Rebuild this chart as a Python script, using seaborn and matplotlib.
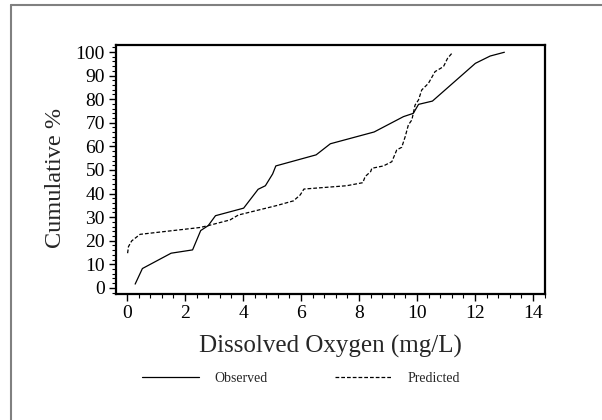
import pandas as pd
import numpy as np
import seaborn as sns
import matplotlib.pyplot as plt
from matplotlib.lines import Line2D
from matplotlib.ticker import MultipleLocator

# observed and predicted cumulative curves
obs_x = [0.28, 0.53, 1.52, 2.26, 2.54, 2.80, 3.05, 4.02, 4.52, 4.77, 5.02, 5.13,
         6.52, 7.01, 8.52, 9.53, 9.87, 10.05, 10.53, 12.01, 12.52, 13.01]
obs_y = [1.6, 8.2, 14.7, 16.1, 24.3, 26.4, 30.6, 33.8, 41.8, 43.3, 48.3, 51.7,
         56.4, 61.1, 66.1, 72.6, 74.0, 77.8, 79.2, 95.2, 98.3, 99.9]

pred_x = [0.02, 0.05, 0.16, 0.45, 2.52, 2.80, 3.55, 3.84, 5.16, 5.74, 5.97, 6.10,
          7.57, 8.13, 8.21, 8.40, 8.44, 8.84, 9.13, 9.30, 9.47, 9.59, 9.70, 9.82,
          9.93, 10.05, 10.16, 10.39, 10.62, 10.91, 11.05, 11.23]
pred_y = [14.7, 17.5, 19.9, 22.7, 25.6, 26.4, 28.8, 30.9, 34.9, 36.9, 39.4, 41.9,
          43.3, 44.6, 47.2, 49.3, 50.7, 51.7, 53.5, 58.5, 59.6, 64.1, 69.1, 71.2,
          77.5, 79.7, 83.9, 86.7, 91.7, 93.8, 97.3, 99.9]

x_ticks = [0, 2, 4, 6, 8, 10, 12, 14]
y_ticks = [0, 10, 20, 30, 40, 50, 60, 70, 80, 90, 100]

df = pd.concat([
    pd.DataFrame({'DO': obs_x, 'cum': obs_y, 'series': 'Observed'}),
    pd.DataFrame({'DO': pred_x, 'cum': pred_y, 'series': 'Predicted'}),
], ignore_index=True)

sns.set_style('ticks')
plt.rcParams['font.family'] = ['Liberation Serif', 'DejaVu Serif']
plt.rcParams['xtick.major.width'] = 1.0
plt.rcParams['ytick.major.width'] = 1.0

fig = plt.figure(figsize=(6.02, 4.2), dpi=100)
ax = fig.add_axes([0.1927, 0.3, 0.7126, 0.593])

sns.lineplot(data=df, x='DO', y='cum', hue='series', style='series',
             palette={'Observed': 'black', 'Predicted': 'black'},
             dashes={'Observed': '', 'Predicted': (3, 1.6)},
             estimator=None, sort=False, linewidth=0.9, ax=ax, legend=False)

ax.set_xlim(-0.38, 14.41)
ax.set_ylim(-2.6, 103)
ax.set_xticks(x_ticks)
ax.set_yticks(y_ticks)
ax.xaxis.set_minor_locator(MultipleLocator(0.4))
ax.yaxis.set_minor_locator(MultipleLocator(2))
ax.tick_params(which='major', length=5, labelsize=14, color='black', labelcolor='black', pad=3)
ax.tick_params(which='minor', length=3, width=0.8, color='black')
for s in ax.spines.values():
    s.set_linewidth(1.6)
    s.set_color('black')

ax.set_xlabel('Dissolved Oxygen (mg/L)', fontsize=18, labelpad=9)
ax.set_ylabel('Cumulative %', fontsize=17.5, va='center')
ax.yaxis.set_label_coords(-0.142, 0.466)

handles = [Line2D([], [], color='black', lw=0.9),
           Line2D([], [], color='black', lw=0.9, dashes=(3, 1.6))]
fig.legend(handles, ['Observed', 'Predicted'], loc='center',
           bbox_to_anchor=(0.5, 0.098), ncol=2, frameon=False, fontsize=10,
           handlelength=4.1, handletextpad=1.1, columnspacing=4.9)

# outer grey frame, only top and left visible
fig.add_artist(Line2D([11 / 602, 1], [1 - 5 / 420, 1 - 5 / 420], color='#808080', lw=1.5,
                      transform=fig.transFigure))
fig.add_artist(Line2D([11 / 602, 11 / 602], [0, 1 - 5 / 420], color='#808080', lw=1.5,
                      transform=fig.transFigure))

fig.savefig('out.png', dpi=100)
